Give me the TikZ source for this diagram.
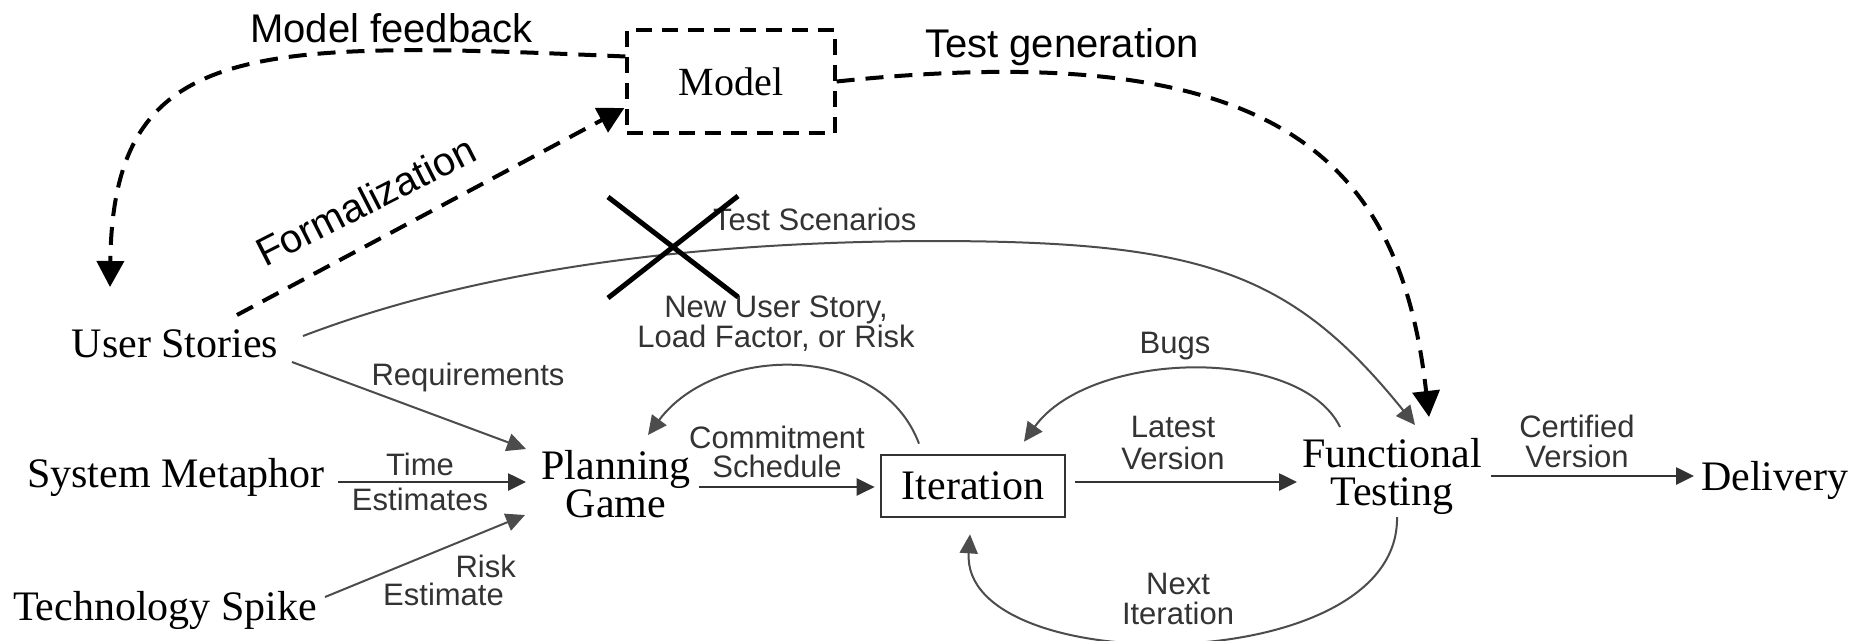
\documentclass[tikz,border=0pt]{standalone}
\usepackage{fontspec}
\setmainfont{Liberation Serif}
\newfontfamily\lblfont{Liberation Sans}
\usetikzlibrary{arrows.meta,calc}
\begin{document}
\begin{tikzpicture}[x=1pt,y=-1pt,
  mainnode/.style={font=\fontsize{42}{38}\selectfont, inner sep=0pt, align=center},
  lbl/.style={font=\lblfont\fontsize{31}{#1}\selectfont, text=black!80, inner sep=0pt, align=center},
  lbl/.default=30,
  biglbl/.style={font=\lblfont\fontsize{40}{44}\selectfont, inner sep=0pt},
  modelbox/.style={draw, line width=3.3pt, dash pattern=on 16pt off 10pt, minimum width=208pt, minimum height=103pt, inner sep=0pt, font=\fontsize{40}{44}\selectfont},
  itbox/.style={draw=black!80, line width=2.7pt, minimum width=184pt, minimum height=62pt, inner sep=0pt, font=\fontsize{42}{38}\selectfont},
  dsh/.style={line width=4pt, dash pattern=on 18pt off 11pt, -{Triangle[length=26pt,width=27pt]}},
  thinarr/.style={line width=2pt, draw=black!70, -{Triangle[length=19pt,width=18pt]}},
  flow/.style={line width=2.6pt, draw=black!80, -{Triangle[length=18pt,width=17pt]}},
]
\fill[white] (0,0) rectangle (1862,640);
\useasboundingbox (0,0) rectangle (1862,640);

% main nodes
\node[modelbox] (model) at (731,81.5) {Model};
\node[mainnode, anchor=base] (us) at (175,357) {User Stories};
\node[mainnode, anchor=base] (sm) at (176,487) {System Metaphor};
\node[mainnode, anchor=base] (ts) at (165,620) {Technology Spike};
\node[mainnode] (pg) at (616,484.5) {Planning\\Game};
\node[itbox] (it) at (973,486) {Iteration};
\node[mainnode] (ft) at (1392,476) {Functional\\Testing};
\node[mainnode, anchor=base] (del) at (1774.5,490) {Delivery};

% labels
\node[biglbl, anchor=base west] (lmf) at (250,42) {Model feedback};
\node[biglbl, anchor=base west] (ltg) at (925,57) {Test generation};
\node[biglbl, anchor=base west, rotate=27] (lfo) at (265,268) {Formalization};
\node[lbl, anchor=base west] (lts) at (713,230) {Test Scenarios};
\node[lbl=28] (lnu) at (776,323.5) {New User Story,\\Load Factor, or Risk};
\node[lbl, anchor=base] (lrq) at (468,385) {Requirements};
\node[lbl=35] (lte) at (420,481.5) {Time\\Estimates};
\node[lbl=28, align=right, anchor=east] (lre) at (516,580) {Risk\\Estimate\hspace*{12pt}};
\node[lbl=29] (lcs) at (777,451.5) {Commitment\\Schedule};
\node[lbl, anchor=base] (lbu) at (1175,353) {Bugs};
\node[lbl=32] (llv) at (1173,443) {Latest\\Version};
\node[lbl] (lni) at (1178,599) {Next\\Iteration};
\node[lbl] (lcv) at (1577,441.5) {Certified\\Version};

% dashed connectors
\draw[dsh] ($(model.west)+(0,-25)$) .. controls (250,40) and (113,40) .. ($(us.base)+(-65,-70)$);
\draw[dsh] ($(us.base)+(62,-42)$) -- ($(model.west)+(-1,26.5)$);
\draw[dsh] (model.east) .. controls (1280,35) and (1400,160) .. ($(ft)+(37,-59)$);

% solid connectors
\draw[thinarr] ($(us.base)+(128,-21)$) .. controls (450,280) and (650,242) .. (930,241)
   .. controls (1200,241) and (1290,270) .. ($(ft)+(23,-51)$);
\draw[thinarr] ($(us.base)+(117,5)$) -- ($(pg)+(-90,-35.5)$);
\draw[flow] ($(sm.base)+(162,-5)$) -- ($(pg)+(-90,-2.5)$);
\draw[thinarr] ($(ts.base)+(160,-23)$) -- ($(pg)+(-91,30.5)$);
\draw[flow] ($(pg)+(83,2.5)$) -- ($(it.west)+(-5,1)$);
\draw[thinarr] ($(it.north)+(-54,-10)$) .. controls (880,340) and (715,345) .. ($(pg)+(32,-49.5)$);
\draw[flow] ($(it.east)+(9,-4)$) -- ($(ft)+(-95,6)$);
\draw[thinarr] ($(ft)+(-52,-49)$) .. controls (1300,345) and (1090,350) .. ($(it.north)+(51,-12)$);
\draw[thinarr] ($(ft)+(5,41)$) .. controls (1400,680) and (960,680) .. ($(it.south)+(-3,16)$);
\draw[flow] ($(ft)+(99,0)$) -- ($(del.base)+(-80.5,-14)$);

% the cross
\draw[line width=5pt] (608,197) -- (738,297);
\draw[line width=5pt] (608,298) -- (738,196);
\end{tikzpicture}
\end{document}
